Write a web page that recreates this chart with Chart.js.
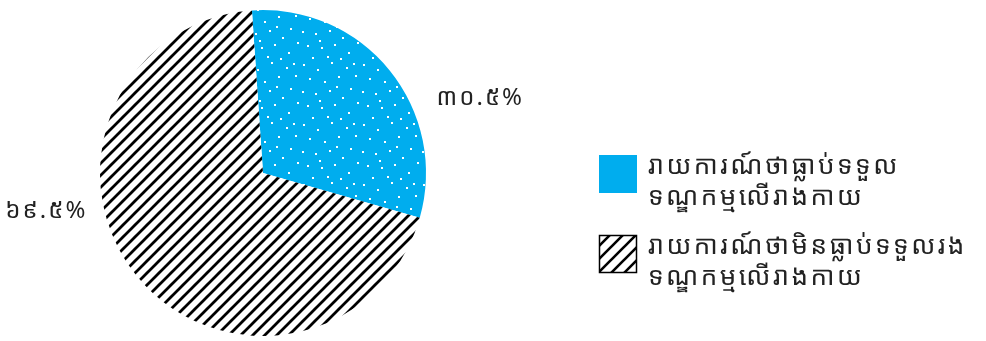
<!DOCTYPE html>
<html><head><meta charset="utf-8">
<script src="https://cdn.jsdelivr.net/npm/chart.js@4/dist/chart.umd.min.js"></script>
<style>html,body{margin:0;padding:0;background:#fff}#wrap{width:986px;height:341px}</style>
</head><body><div id="wrap"><canvas id="c" width="986" height="341"></canvas></div>
<script>
const categories = [
  ['រាយការណ៍ថាធ្លាប់ទទួល','ទណ្ឌកម្មលើរាងកាយ'],
  ['រាយការណ៍ថាមិនធ្លាប់ទទួលរង','ទណ្ឌកម្មលើរាងកាយ']
];
const values = [30.5, 69.5];
const valueLabels = ['៣០.៥%', '៦៩.៥%'];
const FONT = '"Noto Sans Khmer","Khmer OS","Khmer OS System","Noto Serif Khmer",sans-serif';

function hatchPattern(size, lw){
  const c=document.createElement('canvas');c.width=size;c.height=size;
  const g=c.getContext('2d');g.fillStyle='#fff';g.fillRect(0,0,size,size);
  g.strokeStyle='#000';g.lineWidth=lw;g.lineCap='square';
  g.beginPath();
  g.moveTo(0,size);g.lineTo(size,0);
  g.moveTo(-size/2,size/2);g.lineTo(size/2,-size/2);
  g.moveTo(size/2,size*1.5);g.lineTo(size*1.5,size/2);
  g.stroke();
  return g.createPattern(c,'repeat');
}
function dotPattern(){
  const s=60;const c=document.createElement('canvas');c.width=s;c.height=s;
  const g=c.getContext('2d');g.fillStyle='#00ADEE';g.fillRect(0,0,s,s);
  g.fillStyle='#fff';
  const pts=[[3,4],[17,9],[31,2],[46,7],[55,15],[9,18],[24,21],[38,16],[50,28],[2,31],[15,33],[29,30],[42,37],[57,42],[7,45],[21,47],[34,44],[48,52],[12,57],[27,56],[40,58],[53,3],[36,26],[19,40]];
  pts.forEach(p=>g.fillRect(p[0],p[1],2,2));
  return g.createPattern(c,'repeat');
}
const fills=[dotPattern(), hatchPattern(12,2.8)];
const legendFills=['#00ADEE', hatchPattern(13,2.6)];

const labelPlugin={
  id:'labels',
  afterDatasetsDraw(chart){
    const ctx=chart.ctx;const meta=chart.getDatasetMeta(0);
    const place=[{a:-19,d:1.41},{a:170,d:1.35}];
    ctx.save();ctx.font='24px '+FONT;ctx.letterSpacing='2px';ctx.fillStyle='#222';ctx.textAlign='center';ctx.textBaseline='middle';
    meta.data.forEach((arc,i)=>{
      const p=arc.getProps(['x','y','outerRadius'],true);
      const ang=place[i].a*Math.PI/180;
      ctx.fillText(valueLabels[i], p.x+Math.cos(ang)*p.outerRadius*place[i].d, p.y+Math.sin(ang)*p.outerRadius*place[i].d);
    });
    ctx.restore();
  }
};
const legendPlugin={
  id:'customLegend',
  afterDraw(chart){
    const ctx=chart.ctx;
    const x0=599, box=38, tops=[155,235], lh=31;
    ctx.save();
    categories.forEach((lines,i)=>{
      ctx.fillStyle=legendFills[i];
      ctx.fillRect(x0,tops[i],box,box);
      if(i===1){ctx.strokeStyle='#000';ctx.lineWidth=1.5;ctx.strokeRect(x0+0.5,tops[i]+0.5,box-1,box-1);}
      ctx.fillStyle='#222';ctx.font='26px '+FONT;ctx.letterSpacing='2.5px';ctx.textAlign='left';ctx.textBaseline='middle';
      lines.forEach((t,j)=>ctx.fillText(t,x0+box+11,tops[i]+12+j*lh));
    });
    ctx.restore();
  }
};

new Chart(document.getElementById('c'),{
  type:'pie',
  data:{labels:categories.map(l=>l.join(' ')),datasets:[{data:values,backgroundColor:fills,borderWidth:0}]},
  options:{
    responsive:false,animation:false,
    rotation:-3.9,
    layout:{padding:{left:100,right:560,top:10,bottom:5}},
    plugins:{legend:{display:false},tooltip:{enabled:false}}
  },
  plugins:[labelPlugin,legendPlugin]
});
</script></body></html>
